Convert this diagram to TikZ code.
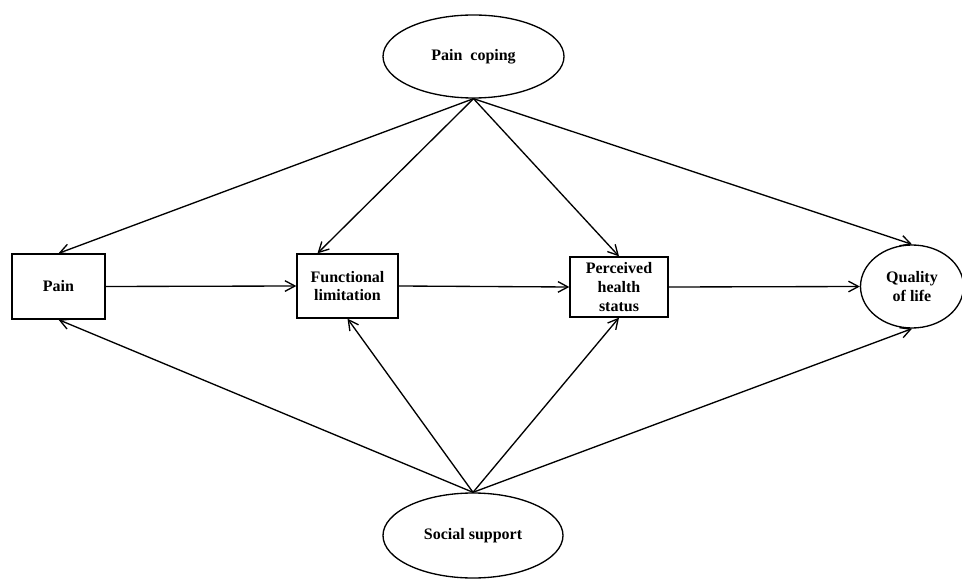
\documentclass[tikz,border=0pt]{standalone}
\usepackage{fontspec}
\setmainfont{Liberation Serif}
\usetikzlibrary{arrows.meta,calc,shapes.geometric}
\begin{document}
\begin{tikzpicture}[x=0.75pt,y=-0.75pt,
  every node/.style={font=\bfseries\fontsize{12}{14}\selectfont, align=center, inner sep=0pt, line width=1pt},
  boxnode/.style={draw, rectangle},
  ellnode/.style={draw, ellipse},
  conn/.style={line width=1pt, -{Straight Barb[length=7.5pt,width=8pt,line width=1pt]}}]
\useasboundingbox (0,0) rectangle (962,580);
\node[ellnode, minimum width=181*0.75pt, minimum height=83*0.75pt] (pc) at (473.5,56.5) {Pain\ \ coping};
\node[ellnode, minimum width=180*0.75pt, minimum height=85*0.75pt] (ss) at (473,535.5) {Social support};
\node[boxnode, minimum width=93*0.75pt, minimum height=65*0.75pt] (pain) at (58.5,286.5) {Pain};
\node[boxnode, minimum width=101*0.75pt, minimum height=64*0.75pt] (fl) at (347.5,286) {Functional\\limitation};
\node[boxnode, minimum width=98*0.75pt, minimum height=60*0.75pt] (phs) at (619,287) {Perceived\\health\\status};
\node[ellnode, minimum width=103*0.75pt, minimum height=83*0.75pt] (qol) at (912,286.5) {Quality\\of life};
\coordinate (flN) at ($(fl.north)+(-30,0)$);
% horizontal chain
\draw[conn] (pain.east) -- (fl.west);
\draw[conn] (fl.east) -- (phs.west);
\draw[conn] (phs.east) -- (qol.west);
% from pain coping
\draw[conn] (pc.south) -- (pain.north);
\draw[conn] (pc.south) -- (flN);
\draw[conn] (pc.south) -- (phs.north);
\draw[conn] (pc.south) -- (qol.north);
% from social support
\draw[conn] (ss.north) -- (pain.south);
\draw[conn] (ss.north) -- (fl.south);
\draw[conn] (ss.north) -- (phs.south);
\draw[conn] (ss.north) -- (qol.south);
\end{tikzpicture}
\end{document}
